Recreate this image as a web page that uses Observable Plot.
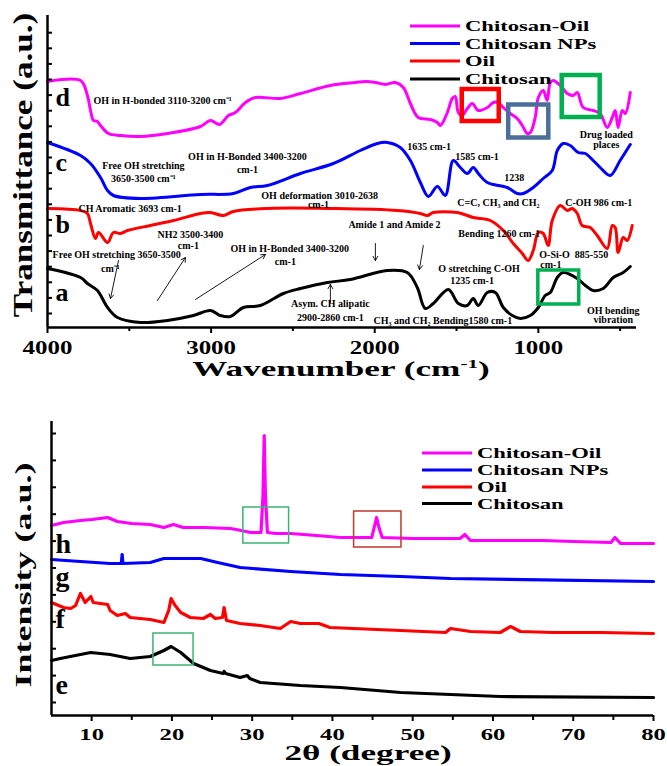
<!DOCTYPE html>
<html><head><meta charset="utf-8">
<script src="https://cdn.jsdelivr.net/npm/d3@7"></script>
<script src="https://cdn.jsdelivr.net/npm/@observablehq/plot@0.6"></script>
<style>
body{margin:0;background:#fff;}
#wrap{position:relative;width:667px;height:766px;overflow:hidden;background:#fff;}
#wrap svg{display:block;}
#topP{position:absolute;left:0;top:0;}
#botP{position:absolute;left:0;top:385px;}
#over{position:absolute;left:0;top:0;pointer-events:none;}
</style></head><body><div id="wrap"><div id="topP"></div><div id="botP"></div></div>
<script>
// ---------------- FTIR data: [wavenumber cm-1, transmittance a.u.] ----------------
const ftirChitosanOil = [[4000,24.6],[3798,24.7],[3756,23.2],[3737,21.7],[3719,20.7],[3695,20.6],[3676,20.2],[3627,19.4],[3554,19.2],[3432,19.1],[3267,19.4],[3065,20.1],[3004,20.7],[2949,20.3],[2894,21.2],[2852,21.5],[2790,22.5],[2729,23.0],[2577,22.9],[2454,23.4],[2271,24.2],[2118,24.5],[2057,24.6],[1996,24.5],[1935,24.3],[1874,24.5],[1825,24.0],[1782,22.4],[1734,21.0],[1660,20.8],[1617,20.5],[1599,20.2],[1556,21.5],[1526,22.9],[1508,23.1],[1489,21.5],[1465,21.2],[1434,21.9],[1404,22.4],[1367,21.7],[1312,22.0],[1275,22.5],[1245,22.5],[1214,22.0],[1172,21.4],[1129,20.9],[1098,20.2],[1068,19.4],[1049,19.5],[1019,21.0],[1000,23.0],[970,23.7],[946,22.7],[927,24.5],[909,24.7],[866,24.2],[823,23.4],[787,23.2],[762,23.5],[726,22.0],[665,21.7],[622,21.4],[579,20.0],[548,21.0],[530,21.7],[512,20.0],[487,21.7],[469,21.4],[438,23.5]];
const ftirChitosanNPs = [[4000,18.5],[3798,17.2],[3737,16.4],[3676,15.0],[3633,13.7],[3597,13.2],[3432,12.9],[3065,13.3],[2864,13.4],[2760,14.0],[2656,14.2],[2454,15.4],[2253,16.4],[2088,17.7],[1984,18.4],[1923,18.5],[1844,18.0],[1782,16.7],[1721,14.5],[1672,13.1],[1617,14.1],[1569,13.2],[1520,16.7],[1477,16.0],[1434,15.4],[1398,16.0],[1367,15.4],[1312,14.5],[1190,14.0],[1129,13.4],[1092,13.4],[1031,14.0],[970,14.9],[915,15.7],[884,17.7],[848,18.4],[805,18.2],[756,17.5],[713,17.4],[665,16.7],[622,16.0],[561,15.2],[500,16.7],[438,18.3]];
const ftirOil = [[4000,11.9],[3798,11.7],[3756,11.4],[3737,10.4],[3707,8.9],[3688,9.5],[3633,8.5],[3597,9.5],[3554,9.4],[3511,9.7],[3371,10.2],[3230,10.7],[3065,11.4],[3004,11.5],[2925,11.2],[2864,11.6],[2656,11.9],[2253,11.9],[1862,11.7],[1721,11.4],[1679,11.2],[1642,11.5],[1495,11.5],[1398,11.0],[1294,10.7],[1214,9.7],[1153,8.4],[1098,7.4],[1062,6.7],[1031,7.7],[1000,9.5],[970,9.4],[940,8.2],[915,10.7],[866,12.2],[823,11.7],[793,11.9],[762,11.4],[732,10.2],[683,10.0],[640,9.2],[579,7.9],[548,10.2],[530,10.0],[512,7.5],[481,9.0],[457,8.7],[426,10.2]];
const ftirChitosan = [[4000,5.9],[3798,5.0],[3756,4.4],[3695,3.7],[3633,2.0],[3572,1.0],[3432,0.5],[3267,0.7],[3108,1.2],[3004,1.7],[2943,1.2],[2882,1.1],[2803,2.0],[2699,2.2],[2558,3.4],[2454,3.9],[2289,4.5],[2149,4.8],[1923,5.7],[1801,5.5],[1740,4.0],[1691,1.9],[1642,2.4],[1550,3.8],[1489,2.4],[1434,2.2],[1398,2.9],[1367,2.2],[1312,3.5],[1263,3.5],[1214,2.0],[1159,1.2],[1110,0.9],[1049,1.2],[1000,2.0],[958,3.2],[927,3.5],[884,5.0],[848,5.5],[762,4.9],[713,4.2],[665,3.7],[603,3.9],[542,5.0],[481,5.5],[438,6.1]];
const ftirMajorTicks = [4000, 3000, 2000, 1000];
const ftirMinorTicks = [3500, 2500, 1500, 500];

// ---------------- XRD data: [2theta deg, intensity a.u.] ----------------
const xrdChitosanOil = [[5,19.0],[6.5,19.3],[8.6,19.5],[10,19.6],[12,19.8],[13.2,19.4],[15,19.2],[17.3,19.1],[19,18.8],[20.2,19.1],[21.4,18.8],[24,18.8],[27.3,18.7],[28,18.6],[29.8,18.3],[31.1,18.3],[31.35,22.0],[31.5,28.0],[31.65,22.0],[31.9,18.3],[33,18.2],[34.8,18.2],[38,18.0],[41,17.8],[42.6,17.8],[44.9,17.8],[45.2,18.8],[45.5,19.8],[45.8,18.8],[46.2,17.8],[50,17.7],[53.8,17.7],[55.9,17.7],[56.5,18.1],[57.2,17.5],[62,17.5],[66.3,17.5],[70,17.4],[74.7,17.3],[75.2,17.8],[75.9,17.2],[80,17.2]];
const xrdChitosanNPs = [[5,15.6],[8.6,15.4],[12.3,15.2],[13.7,15.2],[13.8,16.1],[13.9,15.2],[17.3,15.3],[19,15.7],[23.6,15.7],[25.7,15.3],[28.5,14.8],[34.8,14.4],[41,14.1],[48.5,13.9],[54.7,13.7],[80,13.4]];
const xrdOil = [[5,11.3],[6.5,10.8],[7.4,10.7],[8.0,11.0],[8.6,12.2],[9.2,11.3],[9.9,11.9],[10.2,11.3],[11.1,11.2],[12.0,11.1],[12.3,10.5],[13.2,10.0],[14.2,10.2],[14.8,9.8],[17.3,9.6],[19.0,9.3],[19.6,10.5],[19.9,11.7],[20.4,11.0],[21.1,10.3],[22.3,9.8],[23.9,9.7],[24.8,10.1],[25.4,9.7],[26.3,9.8],[26.5,10.8],[26.8,9.5],[28.5,9.2],[31.0,9.0],[33.5,8.7],[34.8,9.4],[36.0,9.2],[38.3,9.2],[39.7,8.8],[48.5,8.5],[54.1,8.3],[54.7,8.7],[57.2,8.4],[60.9,8.3],[62.2,8.9],[63.4,8.4],[67.5,8.3],[73.4,8.3],[80,8.2]];
const xrdChitosan = [[5,5.5],[6.1,5.7],[8.6,6.1],[9.9,6.3],[12.3,6.1],[14.8,5.7],[17.3,5.9],[19.0,6.5],[19.9,6.9],[21.1,6.3],[22.7,5.2],[24.8,4.5],[26.4,4.2],[26.5,4.4],[26.7,4.2],[28.5,3.8],[29.4,4.0],[29.7,3.7],[31.0,3.3],[36.0,3.0],[41.0,2.8],[48.5,2.3],[54.7,2.1],[60.9,1.9],[80,1.8]];
const xrdMajorTicks = [10, 20, 30, 40, 50, 60, 70, 80];
const xrdMinorTicks = [15, 25, 35, 45, 55, 65, 75];

const seriesNames = ["Chitosan-Oil", "Chitosan NPs", "Oil", "Chitosan"];
const seriesColors = ["#ff00ff", "#0000ff", "#ff0000", "#000000"];

// annotations (FTIR panel, data coordinates)
const ftirLetters = [{x:3951,y:22.2,t:"d"},{x:3951,y:15.7,t:"c"},{x:3951,y:9.5,t:"b"},{x:3951,y:2.7,t:"a"}];
const ftirNotesStart = [
  {x:3719,y:22.7,t:"OH in H-bonded 3110-3200 cm⁻¹"},
  {x:1801,y:18.1,t:"1635 cm-1"},
  {x:1508,y:17.1,t:"1585 cm-1"},
  {x:1208,y:15.0,t:"1238"},
  {x:2693,y:13.15,t:"OH deformation 3010-2638"},
  {x:3811,y:11.9,t:"CH Aromatic 3693 cm-1"},
  {x:1495,y:12.5,t:"C=C, CH₃ and CH₂"},
  {x:836,y:12.5,t:"C-OH 986 cm-1"},
  {x:1489,y:9.4,t:"Bending 1260 cm-1"},
  {x:2161,y:10.3,t:"Amide 1 and Amide 2"},
  {x:3328,y:9.3,t:"NH2 3500-3400"},
  {x:3969,y:7.3,t:"Free OH stretching 3650-3500"},
  {x:2882,y:7.9,t:"OH in H-Bonded 3400-3200"},
  {x:994,y:7.3,t:"O-Si-O  885-550"},
  {x:988,y:6.3,t:"cm-1"},
  {x:1611,y:5.9,t:"O stretching C-OH"},
  {x:1538,y:4.7,t:"1235 cm-1"},
  {x:2008,y:0.7,t:"CH₃ and CH₂ Bending1580 cm-1"}
];
const ftirNotesMiddle = [
  {x:3414,y:16.2,t:"Free OH stretching"},
  {x:3414,y:14.9,t:"3650-3500 cm⁻¹"},
  {x:2778,y:17.1,t:"OH in H-Bonded 3400-3200"},
  {x:2778,y:15.8,t:"cm-1"},
  {x:585,y:19.25,t:"Drug loaded"},
  {x:585,y:18.25,t:"places"},
  {x:2344,y:12.25,t:"cm-1"},
  {x:3139,y:8.2,t:"cm-1"},
  {x:3615,y:5.9,t:"cm⁻¹"},
  {x:2546,y:6.6,t:"cm-1"},
  {x:2271,y:2.4,t:"Asym. CH alipatic"},
  {x:2271,y:1.0,t:"2900-2860 cm-1"},
  {x:542,y:1.7,t:"OH bending"},
  {x:542,y:0.8,t:"vibration"}
];
const ftirArrows = [
  {x1:3566,y1:6.7,x2:3615,y2:2.9},
  {x1:3328,y1:2.7,x2:3157,y2:7.0},
  {x1:3096,y1:2.8,x2:2668,y2:7.3},
  {x1:2271,y1:2.5,x2:2271,y2:4.3},
  {x1:1996,y1:8.4,x2:1996,y2:6.7},
  {x1:1703,y1:8.2,x2:1727,y2:5.8}
];
const ftirBoxes = [
  {x1:1465,x2:1239,y1:20.6,y2:23.8,c:"#ff0000",w:4.5},
  {x1:1181,x2:936,y1:18.95,y2:22.25,c:"#4a6f9a",w:4.5},
  {x1:854,x2:622,y1:21.0,y2:25.2,c:"#00b050",w:4.5},
  {x1:1000,x2:750,y1:2.3,y2:5.7,c:"#00b050",w:3.5}
];
const xrdLetters = [{x:5.5,y:16.3,t:"h"},{x:5.5,y:13.0,t:"g"},{x:5.5,y:8.8,t:"f"},{x:5.5,y:2.2,t:"e"}];
const xrdBoxes = [
  {x1:28.9,x2:34.6,y1:17.2,y2:20.8,c:"#3cb371"},
  {x1:42.7,x2:48.6,y1:16.8,y2:20.4,c:"#c0392b"},
  {x1:17.7,x2:22.7,y1:5.0,y2:8.2,c:"#3cb371"}
];

const serif = '"Liberation Serif","Times New Roman",serif';
const X = d => d[0], Y = d => d[1];

function stretchTickLabels(svg, k) {
  svg.querySelectorAll('g[aria-label="x-axis tick label"] text').forEach(t => {
    const tr = t.getAttribute("transform") || "";
    t.setAttribute("transform", tr + ` scale(${k},1)`);
  });
}

// ---------------- FTIR panel ----------------
const ftirSeries = [ftirChitosanOil, ftirChitosanNPs, ftirOil, ftirChitosan];
const topSvg = Plot.plot({
  width: 667, height: 385,
  marginLeft: 47, marginRight: 31, marginTop: 15, marginBottom: 58,
  x: {domain: [4000, 400]},
  y: {domain: [0, 31.2]},
  style: {fontFamily: serif, fontWeight: "bold", background: "white", overflow: "visible"},
  marks: [
    ...ftirSeries.map((s, i) => Plot.line(s, {x: X, y: Y, stroke: seriesColors[i], strokeWidth: 3, curve: "catmull-rom"})),
    ...ftirBoxes.map(b => Plot.rect([b], {x1: "x1", x2: "x2", y1: "y1", y2: "y2", fill: "none", stroke: b.c, strokeWidth: b.w})),
    Plot.arrow(ftirArrows, {x1: "x1", y1: "y1", x2: "x2", y2: "y2", stroke: "black", strokeWidth: 0.9, headLength: 8}),
    Plot.text(ftirNotesStart, {x: "x", y: "y", text: "t", textAnchor: "start", fontSize: 10, fontWeight: "bold", fill: "black"}),
    Plot.text(ftirNotesMiddle, {x: "x", y: "y", text: "t", textAnchor: "middle", fontSize: 10, fontWeight: "bold", fill: "black"}),
    Plot.text(ftirLetters, {x: "x", y: "y", text: "t", textAnchor: "start", lineAnchor: "bottom", fontSize: 26, fontWeight: "bold", fill: "black"}),
    Plot.ruleY([0], {strokeWidth: 2.5}),
    Plot.ruleX([4000], {strokeWidth: 2.5}),
    Plot.axisX({ticks: ftirMajorTicks, tickSize: 6, tickPadding: 7, strokeWidth: 2, fontSize: 19.5, fontWeight: "bold", tickFormat: d => String(d), label: null}),
    Plot.axisX({ticks: ftirMinorTicks, tickSize: 4, strokeWidth: 2, tickFormat: () => "", label: null}),
    Plot.axisY({ticks: d3.range(1.4, 31, 1.56), tickSize: -5, strokeWidth: 2, tickFormat: () => "", label: null})
  ]
});
stretchTickLabels(topSvg, 1.28);
document.getElementById("topP").appendChild(topSvg);

// ---------------- XRD panel ----------------
const xrdSeries = [xrdChitosanOil, xrdChitosanNPs, xrdOil, xrdChitosan];
const botSvg = Plot.plot({
  width: 667, height: 381,
  marginLeft: 51, marginRight: 14, marginTop: 36, marginBottom: 51,
  x: {domain: [5, 80]},
  y: {domain: [0, 29.4]},
  style: {fontFamily: serif, fontWeight: "bold", background: "white", overflow: "visible"},
  marks: [
    ...xrdSeries.map((s, i) => Plot.line(s, {x: X, y: Y, stroke: seriesColors[i], strokeWidth: 3.2})),
    ...xrdBoxes.map(b => Plot.rect([b], {x1: "x1", x2: "x2", y1: "y1", y2: "y2", fill: "none", stroke: b.c, strokeWidth: 1.5})),
    Plot.text(xrdLetters, {x: "x", y: "y", text: "t", textAnchor: "start", lineAnchor: "bottom", fontSize: 28, fontWeight: "bold", fill: "black"}),
    Plot.ruleY([0], {strokeWidth: 2.5}),
    Plot.ruleX([5], {strokeWidth: 2.5}),
    Plot.axisX({ticks: xrdMajorTicks, tickSize: 6, tickPadding: 6, strokeWidth: 2, fontSize: 17, fontWeight: "bold", tickFormat: d => String(d), label: null}),
    Plot.axisX({ticks: xrdMinorTicks, tickSize: 5, strokeWidth: 2, tickFormat: () => "", label: null}),
    Plot.axisY({ticks: d3.range(1.3, 29, 2.69), tickSize: -5, strokeWidth: 2, tickFormat: () => "", label: null})
  ]
});
stretchTickLabels(botSvg, 1.45);
document.getElementById("botP").appendChild(botSvg);

// ---------------- axis titles and legends (overlay) ----------------
const over = d3.select("#wrap").append("svg").attr("id", "over").attr("width", 667).attr("height", 766)
  .style("font-family", serif).style("font-weight", "bold");

function label(x, y, k, size, rot, parts) {
  const t = over.append("text").attr("text-anchor", "middle").attr("font-size", size)
    .attr("transform", `translate(${x},${y}) rotate(${rot}) scale(${k},1)`);
  parts.forEach(p => {
    const s = t.append("tspan").text(p.t);
    if (p.sup) s.attr("font-size", size * 0.6).attr("dy", -size * 0.38);
    if (p.down) s.attr("dy", size * 0.38);
  });
}
label(341, 376, 1.6, 22, 0, [{t: "Wavenumber (cm"}, {t: "-1", sup: true}, {t: ")", down: true}]);
label(368, 760, 1.6, 22, 0, [{t: "2θ (degree)"}]);
label(32, 165, 1.3, 27, -90, [{t: "Transmittance (a.u.)"}]);
label(31, 575, 1.5, 24, -90, [{t: "Intensity (a.u.)"}]);

function legend(x0, ys) {
  seriesNames.forEach((n, i) => {
    over.append("line").attr("x1", x0).attr("x2", x0 + 50).attr("y1", ys[i]).attr("y2", ys[i])
      .attr("stroke", seriesColors[i]).attr("stroke-width", 3);
    over.append("text").attr("font-size", 15.5)
      .attr("transform", `translate(${x0 + 55},${ys[i] + 5.3}) scale(1.46,1)`).text(n);
  });
}
legend(410, [26, 43.5, 61, 79]);
legend(422, [453, 470, 487, 503.5]);
</script></body></html>
